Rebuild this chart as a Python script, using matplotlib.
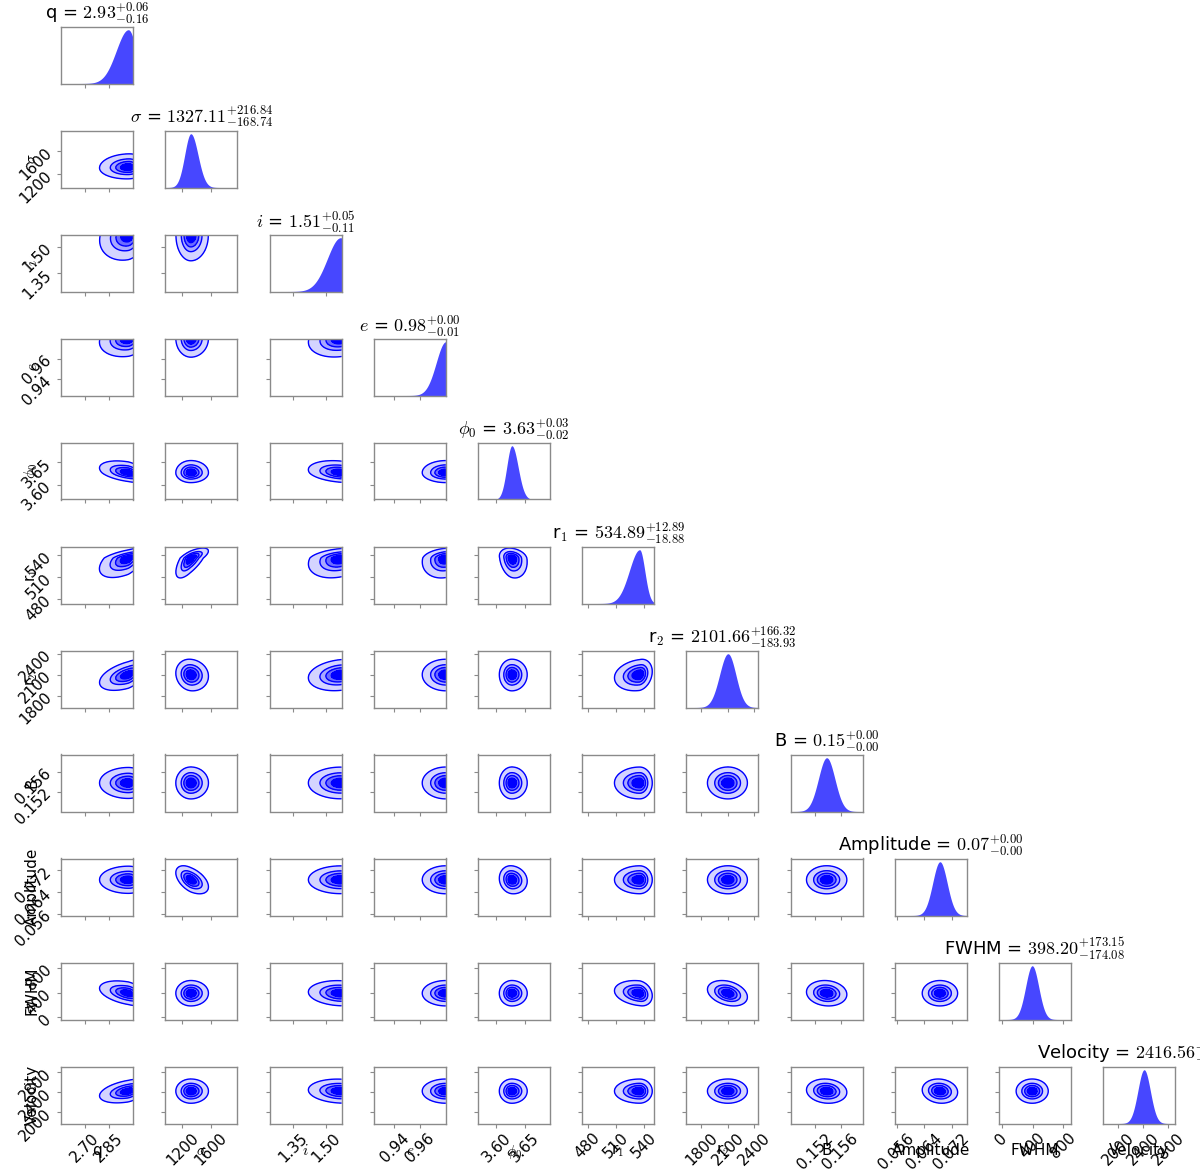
import numpy as np
import matplotlib
matplotlib.use("Agg")
import matplotlib.pyplot as plt

plt.rcParams['mathtext.fontset'] = 'cm'
plt.rcParams['font.family'] = ['DejaVu Sans']

# ---------------- data ----------------
names = ['q', r'$\sigma$', r'$i$', r'$e$', r'$\phi_0$', r'r$_1$', r'r$_2$',
         'B', 'Amplitude', 'FWHM', 'Velocity']
medians = [2.93, 1327.11, 1.51, 0.98, 3.63, 534.89, 2101.66, 0.15, 0.07, 398.20, 2416.56]
err_up = [0.06, 216.84, 0.05, 0.00, 0.03, 12.89, 166.32, 0.00, 0.00, 173.15, 104.87]
err_lo = [0.16, 168.74, 0.11, 0.01, 0.02, 18.88, 183.93, 0.00, 0.00, 174.08, 98.42]

# marginal shapes (mode, left / right widths) estimated from the diagonal panels
modes = [2.970, 1318, 1.566, 0.980, 3.627, 535.5, 2100, 0.1538, 0.0686, 395, 2419]
width_left = [0.075, 85, 0.06, 0.0075, 0.009, 11, 95, 0.0013, 0.0021, 85, 100]
width_right = [0.05, 100, 0.05, 0.01, 0.011, 5.5, 90, 0.0013, 0.0021, 85, 100]

# axis ranges
lims = [(2.555, 3.0), (965, 1965), (1.245, 1.5708), (0.924, 0.980), (3.5675, 3.694),
        (474.3, 551), (1629, 2445), (0.14811, 0.15947), (0.0555, 0.0764),
        (-35, 898), (1765, 2916)]

ticks = [[2.70, 2.85], [1200, 1600], [1.35, 1.50], [0.94, 0.96], [3.60, 3.65],
         [480, 510, 540], [1800, 2100, 2400], [0.152, 0.156],
         [0.056, 0.064, 0.072], [0, 400, 800], [2000, 2400, 2800]]
tick_labels = [['2.70', '2.85'], ['1200', '1600'], ['1.35', '1.50'], ['0.94', '0.96'],
               ['3.60', '3.65'], ['480', '510', '540'], ['1800', '2100', '2400'],
               ['0.152', '0.156'], ['0.056', '0.064', '0.072'], ['0', '400', '800'],
               ['2000', '2400', '2800']]

correlation_rows = [
    [],
    [0.05],
    [0.2, 0.0],
    [0.2, 0.0, 0.2],
    [-0.4, 0.0, -0.25, 0.0],
    [0.55, 0.7, 0.3, 0.2, -0.2],
    [0.5, -0.1, 0.2, 0.0, 0.0, 0.2],
    [0.0, 0.0, 0.0, 0.0, 0.0, 0.0, 0.0],
    [0.0, -0.5, 0.0, 0.0, -0.1, 0.0, 0.0, 0.0],
    [-0.4, 0.0, -0.1, 0.0, 0.0, -0.2, -0.3, -0.1, 0.0],
    [0.4, 0.0, -0.1, 0.0, 0.0, 0.0, 0.0, -0.1, -0.1, 0.0],
]

hpd_masses = [0.95, 0.7125, 0.475, 0.2375]
band_colors = ['#d4d4ff', '#a8a8ff', '#6c6cff', '#0000ff']

# ---------------- helpers ----------------
def zscore(x, k):
    m = modes[k]
    s = np.where(x < m, width_left[k], width_right[k])
    return (x - m) / s

def marginal(x, k):
    z = zscore(x, k)
    return np.exp(-0.5 * z ** 2)

def joint(X, Y, kx, ky, rho):
    zx = zscore(X, kx)
    zy = zscore(Y, ky)
    q = (zx ** 2 - 2 * rho * zx * zy + zy ** 2) / (1 - rho ** 2)
    return np.exp(-0.5 * q)

def hpd_levels(P, masses):
    flat = np.sort(P.ravel())[::-1]
    cum = np.cumsum(flat)
    cum /= cum[-1]
    return [flat[min(np.searchsorted(cum, m), len(flat) - 1)] for m in masses]

# ---------------- layout ----------------
W, H = 1200, 1173
fig = plt.figure(figsize=(12, 11.73), dpi=100)
n = len(names)
x0, dx, aw = 61.2, 104.2, 72.0
y0, dy, ah = 26.5, 104.0, 57.0
spine_col = '#8a8a8a'

for r in range(n):
    for c in range(r + 1):
        left = (x0 + dx * c) / W
        bottom = 1 - (y0 + dy * r + ah) / H
        ax = fig.add_axes([left, bottom, aw / W, ah / H])
        for sp in ax.spines.values():
            sp.set_color(spine_col)
            sp.set_linewidth(1.0)
        ax.tick_params(direction='out', length=3, width=0.8, color=spine_col,
                       labelsize=11, pad=2)
        xlo, xhi = lims[c]
        if r == c:
            xs = np.linspace(xlo, xhi, 400)
            d = marginal(xs, c)
            ax.fill_between(xs, 0, d, color='#0000ff', alpha=0.72, lw=0)
            ax.set_xlim(xlo, xhi)
            ax.set_ylim(0, d.max() * 1.06)
            ax.set_yticks([])
            title = f"{names[c]} = ${medians[c]:.2f}^{{+{err_up[c]:.2f}}}_{{-{err_lo[c]:.2f}}}$"
            ax.set_title(title, fontsize=13, pad=4)
        else:
            ylo, yhi = lims[r]
            xs = np.linspace(xlo, xhi, 160)
            ys = np.linspace(ylo, yhi, 160)
            X, Y = np.meshgrid(xs, ys)
            P = joint(X, Y, c, r, correlation_rows[r][c])
            lv = hpd_levels(P, hpd_masses)
            bounds = lv + [P.max() * 1.01]
            ax.contourf(X, Y, P, levels=bounds, colors=band_colors, alpha=1.0)
            ax.contour(X, Y, P, levels=lv, colors='#0000ff', linewidths=1.0)
            ax.set_xlim(xlo, xhi)
            ax.set_ylim(ylo, yhi)
            ax.set_yticks(ticks[r])
            if c == 0:
                ax.set_yticklabels(tick_labels[r], rotation=45)
                ax.set_ylabel(names[r], fontsize=11)
                ax.yaxis.set_label_coords(-0.3, 0.5)
            else:
                ax.set_yticklabels([])
        ax.set_xticks(ticks[c])
        if r == n - 1:
            ax.set_xticklabels(tick_labels[c], rotation=45)
            ax.set_xlabel(names[c], fontsize=11)
            ax.xaxis.set_label_coords(0.5, -0.34)
        else:
            ax.set_xticklabels([])

fig.savefig('out.png', dpi=100)
